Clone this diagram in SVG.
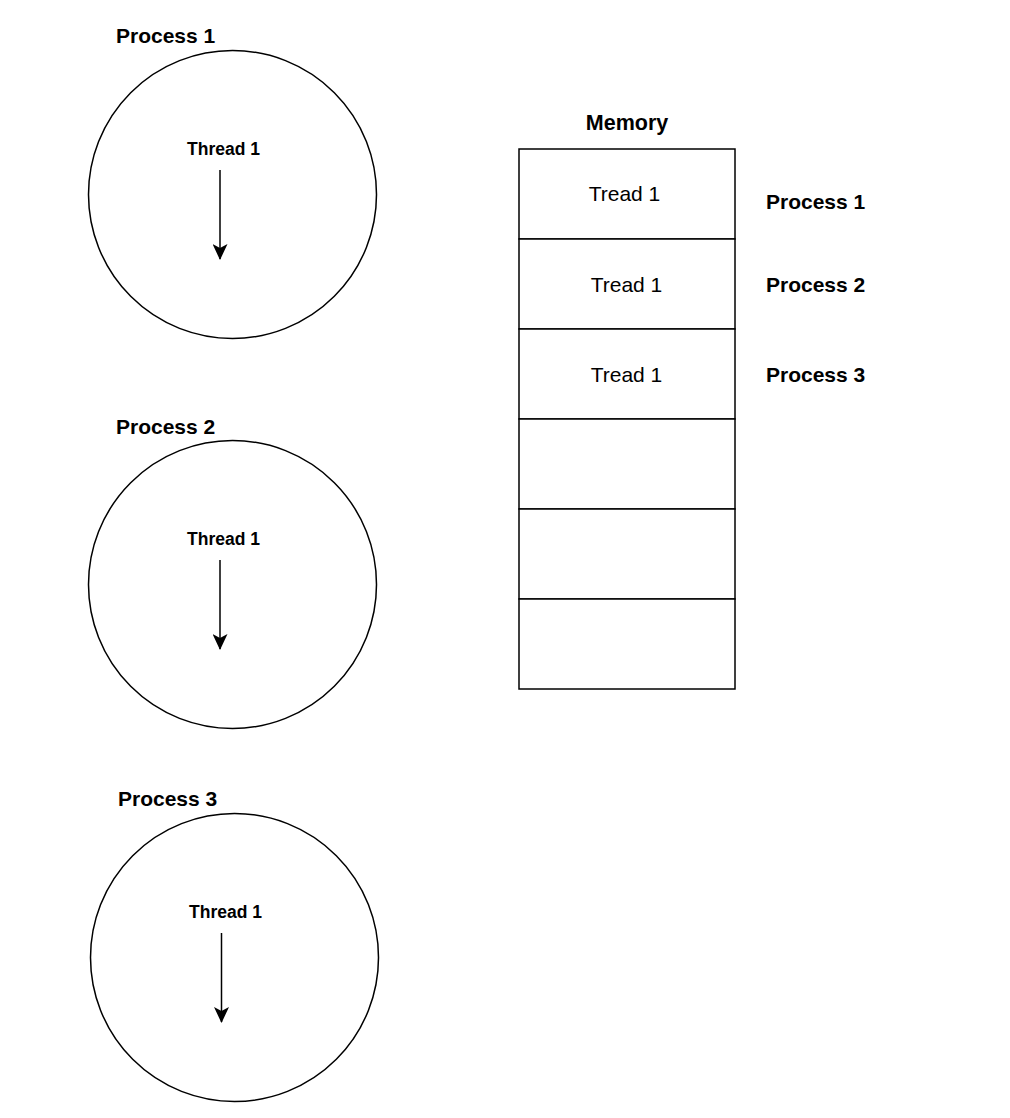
<svg xmlns="http://www.w3.org/2000/svg" width="1010" height="1118" viewBox="0 0 1010 1118">
<style>
.shape{fill:#fff;stroke:#000;stroke-width:1.5}
.b{font-family:"Liberation Sans",Arial,sans-serif;font-weight:bold;fill:#000}
.r{font-family:"Liberation Sans",Arial,sans-serif;fill:#000}
.conn{stroke:#000;stroke-width:1.5;fill:none}
</style>
<defs>
<marker id="ah" markerWidth="16" markerHeight="15" refX="15" refY="7.5" orient="auto" markerUnits="userSpaceOnUse">
<path d="M0,0 L16,7.5 L0,15 L4,7.5 Z" fill="#000"/>
</marker>
</defs>
<rect width="1010" height="1118" fill="#fff"/>
<g id="process1">
<circle class="shape" cx="232.5" cy="194.5" r="144"/>
<text class="b" x="116" y="43" font-size="21">Process 1</text>
<text class="b" x="223.5" y="155" font-size="17.5" text-anchor="middle">Thread 1</text>
</g>
<g id="process2">
<circle class="shape" cx="232.5" cy="584.5" r="144"/>
<text class="b" x="116" y="434" font-size="21">Process 2</text>
<text class="b" x="223.5" y="545" font-size="17.5" text-anchor="middle">Thread 1</text>
</g>
<g id="process3">
<circle class="shape" cx="234.5" cy="957.5" r="144"/>
<text class="b" x="118" y="806" font-size="21">Process 3</text>
<text class="b" x="225.5" y="918" font-size="17.5" text-anchor="middle">Thread 1</text>
</g>
<g id="memory">
<text class="b" x="627" y="130" font-size="21.5" text-anchor="middle">Memory</text>
<rect class="shape" x="519" y="149" width="216" height="90"/>
<rect class="shape" x="519" y="239" width="216" height="90"/>
<rect class="shape" x="519" y="329" width="216" height="90"/>
<rect class="shape" x="519" y="419" width="216" height="90"/>
<rect class="shape" x="519" y="509" width="216" height="90"/>
<rect class="shape" x="519" y="599" width="216" height="90"/>
<text class="r" x="624.5" y="201" font-size="21" text-anchor="middle">Tread 1</text>
<text class="r" x="626.5" y="292" font-size="21" text-anchor="middle">Tread 1</text>
<text class="r" x="626.5" y="382" font-size="21" text-anchor="middle">Tread 1</text>
</g>
<g id="labels">
<text class="b" x="766" y="209" font-size="21">Process 1</text>
<text class="b" x="766" y="292" font-size="21">Process 2</text>
<text class="b" x="766" y="382" font-size="21">Process 3</text>
</g>
<g id="connectors">
<line class="conn" x1="220" y1="170" x2="220" y2="259" marker-end="url(#ah)"/>
<line class="conn" x1="220" y1="560" x2="220" y2="649" marker-end="url(#ah)"/>
<line class="conn" x1="221.5" y1="933" x2="221.5" y2="1022" marker-end="url(#ah)"/>
</g>
</svg>
